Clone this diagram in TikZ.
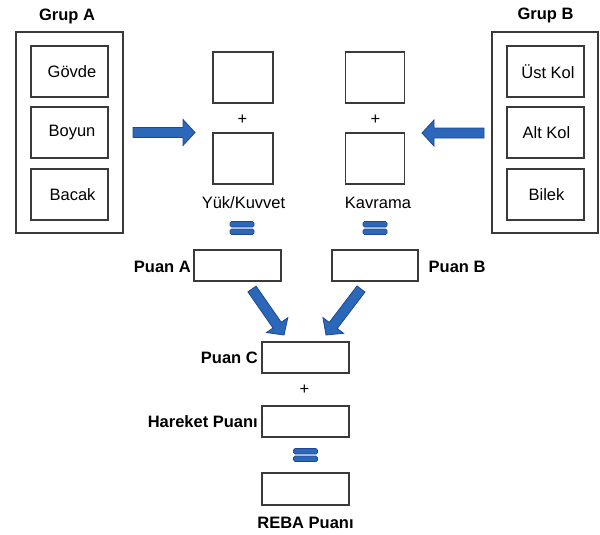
\documentclass[tikz,border=0pt]{standalone}
\usepackage{fontspec}
\setmainfont{Liberation Sans}
\usetikzlibrary{calc}
\definecolor{boxline}{RGB}{58,58,58}
\definecolor{arrfill}{RGB}{44,104,186}
\definecolor{arredge}{RGB}{30,70,148}
\newcommand\blockarrow[2]{%
  \path ($(#2)!12pt!(#1)$) coordinate (bh);
  \filldraw[fill=arrfill, draw=arredge, line width=0.8pt, line join=miter]
    ($(#1)!5pt!90:(#2)$) -- ($(bh)!5pt!90:(#2)$) -- ($(bh)!13pt!90:(#2)$) -- (#2)
    -- ($(bh)!13pt!-90:(#2)$) -- ($(bh)!5pt!-90:(#2)$) -- ($(#1)!5pt!-90:(#2)$) -- cycle;}
\newcommand\eqsign[1]{%
  \filldraw[fill=arrfill, draw=arredge, line width=0.7pt, rounded corners=1.5pt]
    ($(#1)+(-12,-6.5)$) rectangle ($(#1)+(12,-1)$)
    ($(#1)+(-12,1)$) rectangle ($(#1)+(12,6.5)$);}
\begin{document}
\begin{tikzpicture}[x=1pt,y=-1pt,
  font=\fontsize{16.5}{19}\selectfont,
  box/.style={draw=boxline, line width=1.6pt, inner sep=0pt},
  lbl/.style={font=\fontsize{16.5}{19}\selectfont\bfseries, inner sep=0pt},
  txt/.style={inner sep=0pt}]
\useasboundingbox (0,0) rectangle (600,535);

% Group A
\node[lbl] (gA) at (67,16) {Grup A};
\node[box, minimum width=107, minimum height=201] (grpA) at (69.5,132.5) {};
\node[box, minimum width=77, minimum height=51] (govde) at (69.5,71.5) {\hspace{5pt}Gövde};
\node[box, minimum width=77, minimum height=51] (boyun) at (69.5,132.5) {\hspace{5pt}Boyun};
\node[box, minimum width=77, minimum height=51] (bacak) at (69.5,194.5) {\hspace{6pt}Bacak};

% Group B
\node[lbl] (gB) at (545.5,15) {Grup B};
\node[box, minimum width=106, minimum height=201] (grpB) at (545,132.5) {};
\node[box, minimum width=77, minimum height=51] (ust) at (545.5,71.5) {\hspace{5pt}Üst Kol};
\node[box, minimum width=77, minimum height=51] (alt) at (545.5,132.5) {\hspace{2pt}Alt Kol};
\node[box, minimum width=77, minimum height=51] (bilek) at (545.5,194.5) {\hspace{2pt}Bilek};

% centre boxes
\node[box, minimum width=60, minimum height=51] (l1) at (243,77.5) {};
\node[box, minimum width=60, minimum height=51] (l2) at (243,158.5) {};
\node[txt] (lp) at (242.5,120) {+};
\node[txt] (yuk) at (243.5,203) {Yük/Kuvvet};

\node[box, minimum width=59, minimum height=51] (r1) at (375,77.5) {};
\node[box, minimum width=59, minimum height=51] (r2) at (375,158.5) {};
\node[txt] (rp) at (375.5,120) {+};
\node[txt] (kav) at (378,203) {Kavrama};

% block arrows to centre
\coordinate (aS) at (133,132.5);
\coordinate (aE) at (195,132.5);
\blockarrow{aS}{aE}
\coordinate (bS) at (484,133);
\coordinate (bE) at (422,133);
\blockarrow{bS}{bE}

% equals
\coordinate (eqL) at (242,228);
\coordinate (eqR) at (375,228);
\eqsign{eqL}
\eqsign{eqR}

% Puan A / B
\node[box, minimum width=87, minimum height=31] (pa) at (237.5,265.5) {};
\node[lbl, anchor=east] (paL) at (191,267) {Puan A};
\node[box, minimum width=86, minimum height=31] (pb) at (375,265.5) {};
\node[lbl, anchor=west] (pbL) at (428.5,267) {Puan B};

% diagonal arrows
\coordinate (dA1) at (252,289);
\coordinate (dA2) at (284,335);
\blockarrow{dA1}{dA2}
\coordinate (dB1) at (361,289);
\coordinate (dB2) at (326,335);
\blockarrow{dB1}{dB2}

% Puan C, Hareket, REBA
\node[box, minimum width=87, minimum height=31] (pc) at (305.5,357.5) {};
\node[lbl, anchor=east] (pcL) at (258,358) {Puan C};
\node[txt] (cp) at (304.5,390) {+};
\node[box, minimum width=87, minimum height=31] (hp) at (305.5,421.5) {};
\node[lbl, anchor=east] (hpL) at (258,422) {Hareket Puanı};
\coordinate (eqC) at (305.5,455);
\eqsign{eqC}
\node[box, minimum width=87, minimum height=32] (rb) at (305.5,489) {};
\node[lbl] (rbL) at (305.5,523) {REBA Puanı};
\end{tikzpicture}
\end{document}
